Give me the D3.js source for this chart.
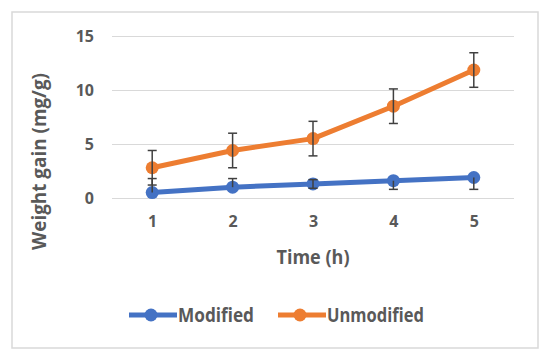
<!DOCTYPE html>
<html><head><meta charset="utf-8">
<script src="https://cdn.jsdelivr.net/npm/d3@7"></script>
<style>html,body{margin:0;padding:0;background:#fff;}svg{display:block;}</style>
</head><body>
<svg id="c" width="550" height="359"></svg>
<script>
const times = [1, 2, 3, 4, 5];
const yTicks = [0, 5, 10, 15];
const modified = [0.5, 1.0, 1.3, 1.6, 1.9];
const modifiedErrPlus = [1.3, 0.8, 0.4, 0, 0];
const modifiedErrMinus = [0, 0, 0.4, 0.8, 1.1];
const unmodified = [2.8, 4.4, 5.5, 8.5, 11.85];
const unmodifiedErr = [1.6, 1.6, 1.6, 1.6, 1.6];
const seriesNames = ["Modified", "Unmodified"];
const colors = ["#4472C4", "#ED7D31"];

const svg = d3.select("#c");
const font = "'Open Sans', sans-serif";
const textColor = "#595959";
const weight = "bold";

svg.append("rect").attr("x", 12).attr("y", 12).attr("width", 526).attr("height", 336)
  .attr("fill", "#fff").attr("stroke", "#d9d9d9").attr("stroke-width", 1.5);

const x = d3.scalePoint().domain(times).range([112, 514]).padding(0.5);
const y = d3.scaleLinear().domain([0, 15]).range([198, 36]);

const yAxis = d3.axisLeft(y).tickValues(yTicks).tickSize(-402).tickPadding(18);
const gy = svg.append("g").attr("transform", "translate(112,0)").call(yAxis);
gy.select(".domain").remove();
gy.selectAll(".tick line").attr("stroke", "#d9d9d9").attr("stroke-width", 1.2);
gy.selectAll(".tick text").attr("fill", textColor).attr("font-family", font)
  .attr("font-size", 16).attr("font-weight", weight);

const xAxis = d3.axisBottom(x).tickSize(0).tickPadding(18);
const gx = svg.append("g").attr("transform", "translate(0,198)").call(xAxis);
gx.select(".domain").remove();
gx.selectAll(".tick text").attr("fill", textColor).attr("font-family", font)
  .attr("font-size", 16).attr("font-weight", weight);

svg.append("text").attr("x", 313).attr("y", 264).attr("text-anchor", "middle")
  .attr("fill", textColor).attr("font-family", font).attr("font-size", 19).attr("font-weight", weight)
  .attr("textLength", 73).attr("lengthAdjust", "spacingAndGlyphs")
  .text("Time (h)");
svg.append("text").attr("transform", "translate(46,161.5) rotate(-90)").attr("text-anchor", "middle")
  .attr("fill", textColor).attr("font-family", font).attr("font-size", 19).attr("font-weight", weight)
  .attr("textLength", 177).attr("lengthAdjust", "spacingAndGlyphs")
  .text("Weight gain (mg/g)");

const series = [
  {name: seriesNames[0], values: modified, plus: modifiedErrPlus, minus: modifiedErrMinus, color: colors[0]},
  {name: seriesNames[1], values: unmodified, plus: unmodifiedErr, minus: unmodifiedErr, color: colors[1]}
];

const line = d3.line().x((d, i) => x(times[i])).y(d => y(d));

series.forEach(s => {
  const g = svg.append("g");
  g.append("path").attr("d", line(s.values)).attr("fill", "none")
    .attr("stroke", s.color).attr("stroke-width", 5).attr("stroke-linejoin", "round");
  g.selectAll("circle").data(s.values).join("circle")
    .attr("cx", (d, i) => x(times[i])).attr("cy", d => y(d)).attr("r", 6.5).attr("fill", s.color);
  const eb = svg.append("g").attr("stroke", "#404040").attr("stroke-width", 1.5);
  s.values.forEach((v, i) => {
    const cx = x(times[i]);
    const top = Math.min(15, v + s.plus[i]);
    const bot = Math.max(0, v - s.minus[i]);
    eb.append("line").attr("x1", cx).attr("x2", cx).attr("y1", y(top)).attr("y2", y(bot));
    if (s.plus[i] > 0) eb.append("line").attr("x1", cx - 4.5).attr("x2", cx + 4.5).attr("y1", y(top)).attr("y2", y(top));
    if (s.minus[i] > 0 && v - s.minus[i] >= 0) eb.append("line").attr("x1", cx - 4.5).attr("x2", cx + 4.5).attr("y1", y(bot)).attr("y2", y(bot));
  });
});

const legendX = [129, 278];
const legendLen = [76, 97];
series.forEach((s, i) => {
  const g = svg.append("g").attr("transform", `translate(${legendX[i]},315)`);
  g.append("line").attr("x1", 0).attr("x2", 48).attr("stroke", s.color).attr("stroke-width", 5);
  g.append("circle").attr("cx", 22).attr("r", 6.5).attr("fill", s.color);
  g.append("text").attr("x", 49).attr("y", 6.5).attr("fill", textColor).attr("font-family", font)
    .attr("font-size", 19).attr("font-weight", weight)
    .attr("textLength", legendLen[i]).attr("lengthAdjust", "spacingAndGlyphs").text(s.name);
});
</script>
</body></html>
